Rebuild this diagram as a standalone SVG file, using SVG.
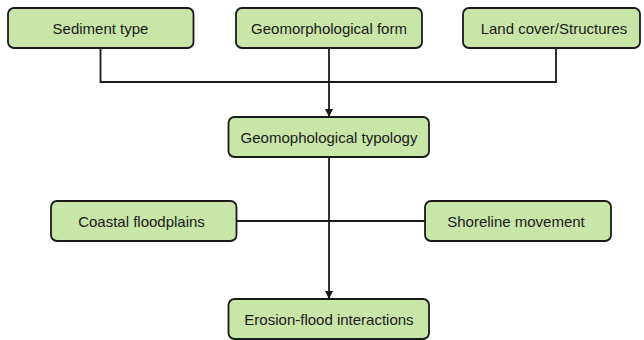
<svg xmlns="http://www.w3.org/2000/svg" width="644" height="340" viewBox="0 0 644 340">
<style>
.box{fill:#c8e6a7;stroke:#1a1a1a;stroke-width:1.8}
.lbl{font-family:"Liberation Sans",Arial,sans-serif;font-size:15px;fill:#1a1a1a;text-anchor:middle;dominant-baseline:central}
.ln{fill:none;stroke:#1a1a1a;stroke-width:1.8}
</style>
<defs>
<marker id="arr" viewBox="0 0 10 10" refX="10" refY="5" markerWidth="4.5" markerHeight="4.5" markerUnits="strokeWidth" orient="auto">
<path d="M0,0 L10,5 L0,10 z" fill="#1a1a1a"/>
</marker>
</defs>
<rect width="644" height="340" fill="#ffffff"/>
<g id="connectors">
<path class="ln" d="M100.5,48 V82 H556 V48"/>
<path class="ln" d="M329,48 V117" marker-end="url(#arr)"/>
<path class="ln" d="M236.5,221 H425"/>
<path class="ln" d="M329,157 V299" marker-end="url(#arr)"/>
</g>
<g id="n-sediment"><rect class="box" x="8" y="8" width="185.5" height="40" rx="6"/><text class="lbl" x="100.5" y="28.5">Sediment type</text></g>
<g id="n-geoform"><rect class="box" x="236" y="8" width="186" height="40" rx="6"/><text class="lbl" x="329" y="28.5">Geomorphological form</text></g>
<g id="n-landcover"><rect class="box" x="463" y="8" width="177" height="40" rx="6"/><text class="lbl" x="554" y="28.5">Land cover/Structures</text></g>
<g id="n-typology"><rect class="box" x="228.5" y="117" width="200.5" height="40" rx="6"/><text class="lbl" x="329" y="137.5">Geomophological typology</text></g>
<g id="n-floodplains"><rect class="box" x="51" y="201" width="185.5" height="40" rx="6"/><text class="lbl" x="141.5" y="221.5">Coastal floodplains</text></g>
<g id="n-shoreline"><rect class="box" x="425" y="201" width="186" height="40" rx="6"/><text class="lbl" x="516" y="221.5">Shoreline movement</text></g>
<g id="n-erosion"><rect class="box" x="228.5" y="299" width="200.5" height="40" rx="6"/><text class="lbl" x="329" y="319.5">Erosion-flood interactions</text></g>
</svg>
